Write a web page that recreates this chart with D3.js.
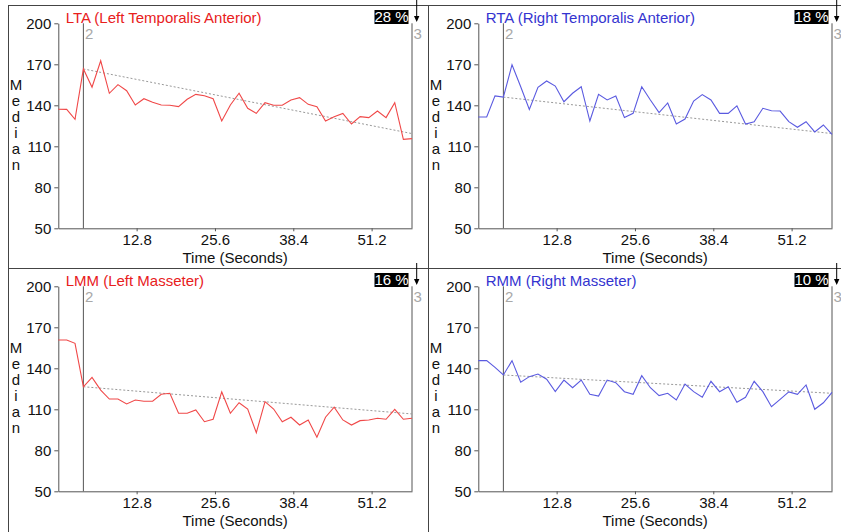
<!DOCTYPE html>
<html>
<head>
<meta charset="utf-8">
<script src="https://cdn.jsdelivr.net/npm/d3@7"></script>
<style>
  body { margin: 0; background: #fff; }
  svg { display: block; font-family: "Liberation Sans", Arial, sans-serif; }
  .tick text { font-size: 15px; fill: #111; }
  .tick line, .domain { stroke: #555; }
</style>
</head>
<body>
<svg id="chart"></svg>
<script>
// Sample times (seconds), shared by all four muscles
const times = [0, 1.37, 2.73, 4.10, 5.51, 6.93, 8.34, 9.75, 11.17, 12.58, 13.99, 15.41,
  16.82, 18.23, 19.65, 21.06, 22.47, 23.88, 25.30, 26.71, 28.12, 29.54, 30.95, 32.36,
  33.78, 35.19, 36.60, 38.02, 39.43, 40.84, 42.26, 43.67, 45.08, 46.50, 47.91, 49.32,
  50.74, 52.15, 53.56, 54.98, 56.39, 57.80];

const ltaValues = [137.1, 137, 129.8, 166.6, 153.2, 172.6, 148.8, 155.1, 150.7, 140.2,
  144.8, 142.2, 140.2, 140, 139, 144.4, 148, 147, 144.8, 128.5,
  140.2, 148.8, 137.8, 134.1, 141.9, 140, 140, 143.9, 145.6, 140.7,
  139, 128.5, 131.7, 134.1, 126.3, 131.7, 131, 135.8, 131, 141.9,
  115.1, 115.6];
const rtaValues = [131.4, 131.4, 146.9, 146, 169.7, 153.6, 136.9, 153.1, 157.8, 154.1,
  142.6, 148.8, 153.6, 128.5, 148, 143.9, 146.8, 131, 134.1, 153.6,
  143.9, 134.7, 141.7, 126.3, 129.9, 143.1, 147.8, 143.9, 134.1, 134.1,
  139.6, 126.3, 128, 137.8, 136, 135.8, 128, 123.9, 128, 120.5,
  125.6, 118.8];
const lmmValues = [160.7, 160.7, 158.3, 126.5, 133.4, 124.1, 117.5, 117.5, 113.9, 116.8,
  115.9, 115.9, 121, 121.7, 107.1, 107.1, 109.5, 100.9, 102.7, 122.7,
  107.1, 114.8, 110.2, 92.9, 115.6, 110.2, 100.9, 104.2, 98.5, 102.2,
  89.5, 104.2, 111.5, 102.2, 98.5, 101.7, 102.2, 103.4, 102.7, 110,
  102.7, 103.4];
const rmmValues = [145.6, 145.6, 140.7, 135.1, 145.6, 129.8, 133.9, 135.8, 132, 122.9,
  131.4, 125.8, 131.4, 121, 119.7, 131.4, 129.5, 122.9, 121, 134.6,
  125.8, 120, 121.7, 116.8, 128.5, 122.9, 118.8, 130.5, 122.9, 126.5,
  115.1, 118.8, 130.5, 122.9, 111.9, 117.3, 122.7, 121, 127.8, 110,
  114.8, 122.4];

const titles = ["LTA (Left Temporalis Anterior)", "RTA (Right Temporalis Anterior)",
  "LMM (Left Masseter)", "RMM (Right Masseter)"];
const percentLabels = ["28 %", "18 %", "16 %", "10 %"];
// Dotted trend from marker 2 to marker 3
const trendStart = [166.6, 146, 126.5, 135.1];
const trendEnd = [119.3, 119.3, 106.6, 121.7];
const markerTimes = [4.10, 57.80];
const markerLabels = ["2", "3"];

const yTicks = [50, 80, 110, 140, 170, 200];
const xTicks = [12.8, 25.6, 38.4, 51.2];

const seriesList = [ltaValues, rtaValues, lmmValues, rmmValues];

// Layout
const width = 841;
const height = 532;
const colX = [8, 428];
const rowY = [5.5, 268.5];
const fontSize = 15;
const lineColors = ["#f04848", "#5a5ae0", "#f04848", "#5a5ae0"];
const titleColors = ["#e8201c", "#3434d0", "#e8201c", "#3434d0"];

const svg = d3.select("#chart").attr("width", width).attr("height", height);

// Panel frame lines
svg.selectAll(".vframe")
  .data([8.5, 428.5])
  .join("line")
  .attr("class", "vframe")
  .attr("x1", (d) => d).attr("x2", (d) => d)
  .attr("y1", 5.5).attr("y2", height)
  .attr("stroke", "#444");
svg.selectAll(".hframe")
  .data([5.5, 268.5])
  .join("line")
  .attr("class", "hframe")
  .attr("x1", 8).attr("x2", width)
  .attr("y1", (d) => d).attr("y2", (d) => d)
  .attr("stroke", "#444");

// Scales (in panel coordinates)
const xScale = d3.scaleLinear().domain([0, 57.8]).range([50.3, 404]);
const yScale = d3.scaleLinear().domain([50, 200]).range([222.8, 17.8]);

const panels = svg
  .selectAll(".panel")
  .data(seriesList.map((values, i) => ({ values, i })))
  .join("g")
  .attr("class", "panel")
  .attr("transform", (d) => `translate(${colX[d.i % 2]},${rowY[Math.floor(d.i / 2)]})`);

// Axes
panels.append("g")
  .attr("transform", `translate(${xScale.range()[0]},0)`)
  .call(d3.axisLeft(yScale).tickValues(yTicks).tickSize(4).tickSizeOuter(0).tickPadding(3));

panels.append("g")
  .attr("transform", `translate(0,${yScale.range()[0]})`)
  .call(d3.axisBottom(xScale).tickValues(xTicks).tickFormat(d3.format(".1f"))
    .tickSize(3).tickSizeOuter(0).tickPadding(3));

// Axis titles
panels.append("text")
  .attr("x", (xScale.range()[0] + xScale.range()[1]) / 2)
  .attr("y", 257.5)
  .attr("text-anchor", "middle")
  .attr("font-size", fontSize)
  .attr("fill", "#111")
  .text("Time (Seconds)");

panels.selectAll(".ylab")
  .data("Median".split(""))
  .join("text")
  .attr("class", "ylab")
  .attr("x", 8)
  .attr("y", (d, k) => 84.5 + k * 16)
  .attr("text-anchor", "middle")
  .attr("font-size", fontSize)
  .attr("fill", "#111")
  .text((d) => d);

// Marker lines 2 and 3
panels.selectAll(".marker")
  .data(markerTimes)
  .join("line")
  .attr("class", "marker")
  .attr("x1", (d) => xScale(d)).attr("x2", (d) => xScale(d))
  .attr("y1", yScale(200)).attr("y2", yScale(50))
  .attr("stroke", "#555");
panels.selectAll(".markerLabel")
  .data(markerTimes)
  .join("text")
  .attr("class", "markerLabel")
  .attr("x", (d) => xScale(d) + 1.5)
  .attr("y", 33)
  .attr("font-size", fontSize)
  .attr("fill", "#a8a8a8")
  .text((d, k) => markerLabels[k]);

// Trend line
panels.append("line")
  .attr("x1", xScale(markerTimes[0]))
  .attr("y1", (d) => yScale(trendStart[d.i]))
  .attr("x2", xScale(markerTimes[1]))
  .attr("y2", (d) => yScale(trendEnd[d.i]))
  .attr("stroke", "#999")
  .attr("stroke-dasharray", "2,2");

// Data line
const line = d3.line()
  .x((v, k) => xScale(times[k]))
  .y((v) => yScale(v));
panels.append("path")
  .attr("d", (d) => line(d.values))
  .attr("fill", "none")
  .attr("stroke", (d) => lineColors[d.i])
  .attr("stroke-width", 1.1);

// Titles
panels.append("text")
  .attr("x", 57.7)
  .attr("y", 17.5)
  .attr("font-size", fontSize)
  .attr("fill", (d) => titleColors[d.i])
  .text((d) => titles[d.i]);

// Percentage badge with arrow
panels.append("rect")
  .attr("x", 366.5).attr("y", 4.5)
  .attr("width", 34).attr("height", 14)
  .attr("fill", "#000");
panels.append("text")
  .attr("x", 383.5).attr("y", 16.8)
  .attr("text-anchor", "middle")
  .attr("font-size", fontSize)
  .attr("fill", "#fff")
  .text((d) => percentLabels[d.i]);
panels.append("line")
  .attr("x1", 408.7).attr("x2", 408.7)
  .attr("y1", -5.5).attr("y2", 12)
  .attr("stroke", "#000");
panels.append("path")
  .attr("d", "M406,10.5L411.4,10.5L408.7,16.5Z")
  .attr("fill", "#000");
</script>
</body>
</html>
